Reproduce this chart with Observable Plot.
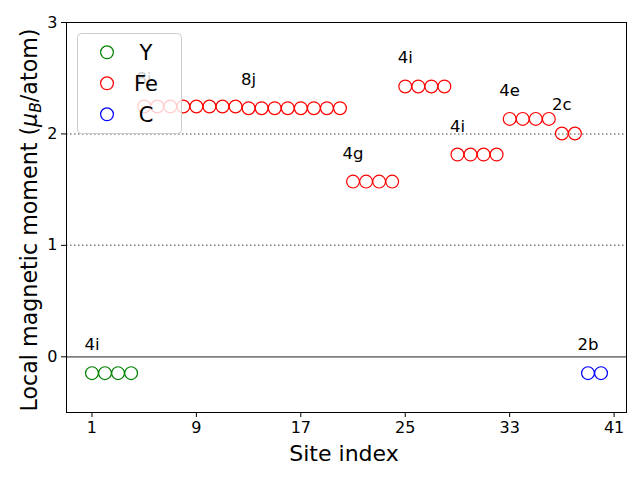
<!DOCTYPE html>
<html>
<head>
<meta charset="utf-8">
<script src="https://cdn.jsdelivr.net/npm/d3@7"></script>
<script src="https://cdn.jsdelivr.net/npm/@observablehq/plot@0.6"></script>
<style>
  html, body { margin: 0; padding: 0; background: white; }
  #chart { position: relative; width: 640px; height: 480px; }
</style>
</head>
<body>
<div id="chart"></div>
<script>
// ---- data ----
const elements = ["Y", "Fe", "C"];
const elementColors = ["green", "red", "blue"];

const siteIndex = [1,2,3,4,5,6,7,8,9,10,11,12,13,14,15,16,17,18,19,20,21,22,23,24,25,26,27,28,29,30,31,32,33,34,35,36,37,38,39,40];
const siteElement = ["Y","Y","Y","Y",
  "Fe","Fe","Fe","Fe","Fe","Fe","Fe","Fe",
  "Fe","Fe","Fe","Fe","Fe","Fe","Fe","Fe",
  "Fe","Fe","Fe","Fe",
  "Fe","Fe","Fe","Fe",
  "Fe","Fe","Fe","Fe",
  "Fe","Fe","Fe","Fe",
  "Fe","Fe",
  "C","C"];
const siteMoment = [-0.147,-0.147,-0.147,-0.147,
  2.246,2.246,2.246,2.246,2.246,2.246,2.246,2.246,
  2.231,2.231,2.231,2.231,2.231,2.231,2.231,2.231,
  1.572,1.572,1.572,1.572,
  2.426,2.426,2.426,2.426,
  1.815,1.815,1.815,1.815,
  2.135,2.135,2.135,2.135,
  2.004,2.004,
  -0.147,-0.147];

const wyckoffLabels = ["4i","8j","8j","4g","4i","4i","4e","2c","2b"];
const wyckoffFirstSite = [1,5,13,21,25,29,33,37,39];
const wyckoffMoment = [-0.147,2.246,2.231,1.572,2.426,1.815,2.135,2.004,-0.147];

const xTicks = [1, 9, 17, 25, 33, 41];
const yTicks = [0, 1, 2, 3];
const refLinesDotted = [1, 2];
const refLineSolid = [0];

// ---- build tables ----
const sites = siteIndex.map((s, i) => ({site: s, element: siteElement[i], moment: siteMoment[i]}));
const labels = wyckoffLabels.map((t, i) => ({text: t, site: wyckoffFirstSite[i], moment: wyckoffMoment[i]}));

const plot = Plot.plot({
  width: 640,
  height: 480,
  marginLeft: 66,
  marginRight: 14,
  marginTop: 22,
  marginBottom: 68,
  style: {fontFamily: "DejaVu Sans, sans-serif", fontSize: "16px", background: "white", overflow: "visible"},
  x: {domain: [-0.95, 41.95], ticks: xTicks, label: null},
  y: {domain: [-0.5, 3], ticks: yTicks, label: null},
  color: {domain: elements, range: elementColors},
  marks: [
    Plot.ruleY(refLinesDotted, {stroke: "gray", strokeWidth: 1.5, strokeDasharray: "1.5,2.5"}),
    Plot.ruleY(refLineSolid, {stroke: "gray", strokeWidth: 1.8}),
    Plot.dot(sites, {x: "site", y: "moment", stroke: "element", fill: "none", r: 6.4, strokeWidth: 1.2}),
    Plot.text(labels, {x: "site", y: "moment", text: "text", textAnchor: "middle", lineAnchor: "bottom",
      dy: -23, fontSize: 16.5, fill: "black"}),
    Plot.frame({stroke: "black", strokeWidth: 1}),
    Plot.axisX({ticks: xTicks, tickSize: 5, tickPadding: 4, fontSize: 16, label: null, tickFormat: d => String(d)}),
    Plot.axisY({ticks: yTicks, tickSize: 5, tickPadding: 4, fontSize: 16, label: null, tickFormat: d => String(d)})
  ]
});

document.getElementById("chart").appendChild(plot);

const svg = d3.select(plot);

// axis labels
svg.append("text")
  .attr("x", 344).attr("y", 461)
  .attr("text-anchor", "middle")
  .attr("font-family", "DejaVu Sans, sans-serif")
  .attr("font-size", 22)
  .attr("fill", "black")
  .text("Site index");

const yl = svg.append("text")
  .attr("transform", "translate(37,220) rotate(-90)")
  .attr("text-anchor", "middle")
  .attr("font-family", "DejaVu Sans, sans-serif")
  .attr("font-size", 22.2)
  .attr("fill", "black");
yl.append("tspan").text("Local magnetic moment (");
yl.append("tspan").attr("font-style", "italic").text("μ");
yl.append("tspan").attr("font-style", "italic").attr("font-size", 15.5).attr("dy", 4).text("B");
yl.append("tspan").attr("dy", -4).text("/atom)");

// legend (drawn over the data, semi-transparent like the original)
const lg = svg.append("g").attr("font-family", "DejaVu Sans, sans-serif");
lg.append("rect")
  .attr("x", 77.5).attr("y", 33.5).attr("width", 104).attr("height", 100).attr("rx", 4)
  .attr("fill", "white").attr("fill-opacity", 0.8)
  .attr("stroke", "#cccccc").attr("stroke-width", 1);
elements.forEach((el, i) => {
  const cy = 52.3 + i * 31;
  lg.append("circle").attr("cx", 107).attr("cy", cy).attr("r", 6.4)
    .attr("fill", "none").attr("stroke", elementColors[i]).attr("stroke-width", 1.2);
  lg.append("text").attr("x", 146).attr("y", cy + 7.3)
    .attr("font-size", 21).attr("fill", "black").text(el);
});
</script>
</body>
</html>
